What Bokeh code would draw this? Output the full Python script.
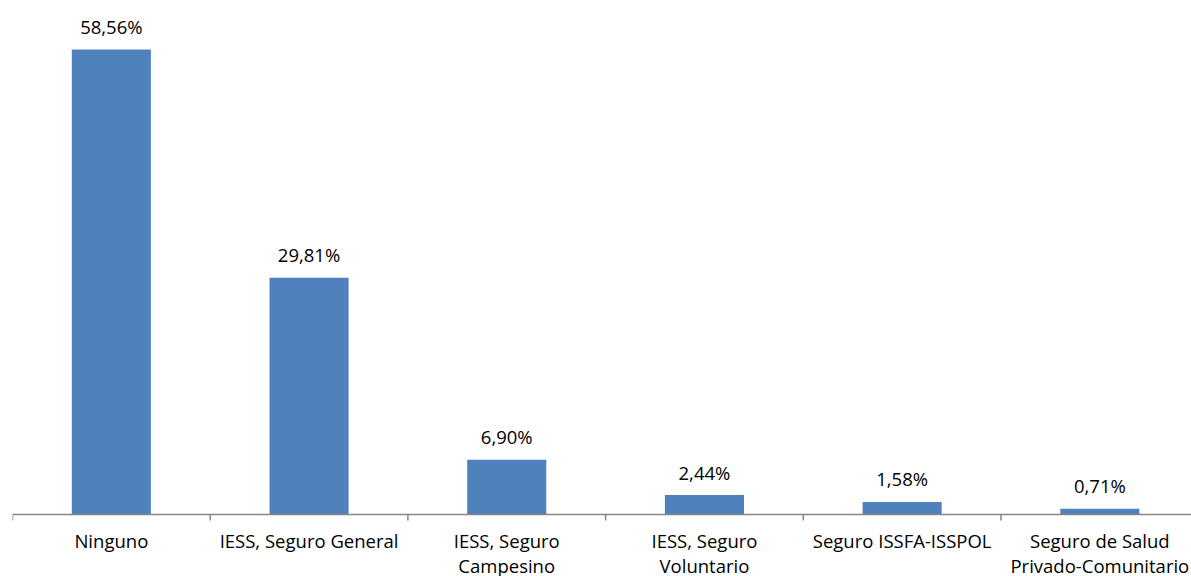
from bokeh.plotting import figure
from bokeh.models import ColumnDataSource, Range1d, Span
from bokeh.core.properties import value
from bokeh.embed import file_html
from bokeh.resources import INLINE

categories = ["Ninguno", "IESS, Seguro General", "IESS, Seguro\nCampesino",
              "IESS, Seguro\nVoluntario", "Seguro ISSFA-ISSPOL",
              "Seguro de Salud\nPrivado-Comunitario"]
values = [58.56, 29.81, 6.90, 2.44, 1.58, 0.71]
value_labels = ["58,56%", "29,81%", "6,90%", "2,44%", "1,58%", "0,71%"]

W, H = 1191, 576
Y_START, Y_END = -7.81, 64.73
TICK_PX = 6

xs = list(range(1, len(categories) + 1))
src = ColumnDataSource(dict(x=xs, v=values, lab=value_labels,
                            cat=categories, base=[0] * len(xs)))
bounds = [x - 0.5 for x in xs] + [len(xs) + 0.5]
units_per_px = (Y_END - Y_START) / H
tick_src = ColumnDataSource(dict(x=bounds, y0=[0] * len(bounds),
                                 y1=[-TICK_PX * units_per_px] * len(bounds)))

p = figure(width=W, height=H, output_backend="svg", toolbar_location=None,
           x_range=Range1d(0.5, 6.4636), y_range=Range1d(Y_START, Y_END),
           x_axis_location=None, y_axis_location=None,
           min_border_left=12, min_border_right=0,
           min_border_top=0, min_border_bottom=0)
p.outline_line_color = None
p.grid.visible = False
p.background_fill_color = "white"
p.border_fill_color = "white"

p.vbar(x="x", top="v", width=0.4, source=src, fill_color="#4F81BD", line_color=None)
p.text(x="x", y="v", text="lab", source=src, text_align="center",
       text_baseline="alphabetic", y_offset=-23, text_font=value("Open Sans"),
       text_font_size="18.5px", text_color="#000000")

# category axis
p.add_layout(Span(location=0, dimension="width", line_color="#868686", line_width=1.5))
p.segment(x0="x", y0="y0", x1="x", y1="y1", source=tick_src,
          line_color="#868686", line_width=1.5)
p.text(x="x", y="base", text="cat", source=src, text_align="center",
       text_baseline="top", y_offset=14, text_font=value("Open Sans"),
       text_font_size="18.5px", text_color="#000000", text_line_height=1.0)

open("out.html", "w").write(file_html(p, INLINE))
